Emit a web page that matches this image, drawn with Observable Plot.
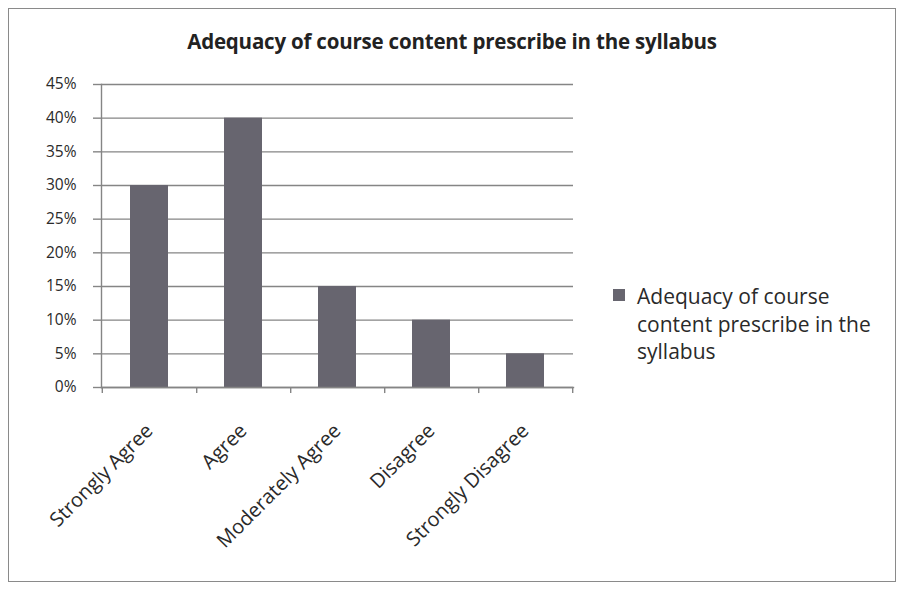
<!DOCTYPE html>
<html>
<head>
<meta charset="utf-8">
<script src="https://cdn.jsdelivr.net/npm/d3@7"></script>
<script src="https://cdn.jsdelivr.net/npm/@observablehq/plot@0.6"></script>
<style>
  html, body { margin: 0; padding: 0; background: #fff; }
  #wrap { position: relative; width: 904px; height: 596px; overflow: hidden; font-family: "Open Sans", Lato, sans-serif; }
  #frame { position: absolute; left: 8px; top: 8px; width: 888px; height: 574px; border: 1.5px solid #8a8a8a; box-sizing: border-box; pointer-events: none; }
  #title { position: absolute; left: 0; width: 904px; top: 28px; text-align: center; font-size: 20.5px; font-weight: bold; color: #222; line-height: 26px; letter-spacing: -0.2px; }
  #legend { position: absolute; left: 613px; top: 283px; font-size: 21px; color: #2a2a2a; line-height: 27.5px; }
  #legend .sw { position: absolute; left: 0; top: 6px; width: 12px; height: 12px; background: #67656f; }
  #legend .tx { margin-left: 24px; width: 270px; }
  #chart { position: absolute; left: 0; top: 0; }
</style>
</head>
<body>
<div id="wrap">
  <div id="chart"></div>
  <div id="frame"></div>
  <div id="title"></div>
  <div id="legend"><div class="sw"></div><div class="tx"></div></div>
</div>
<script>
const titleText = "Adequacy of course content prescribe in the syllabus";
const seriesName = "Adequacy of course content prescribe in the syllabus";
const legendLines = ["Adequacy of course", "content prescribe in the", "syllabus"];
const categories = ["Strongly Agree", "Agree", "Moderately Agree", "Disagree", "Strongly Disagree"];
const values = [0.30, 0.40, 0.15, 0.10, 0.05];
const yTicks = [0, 0.05, 0.10, 0.15, 0.20, 0.25, 0.30, 0.35, 0.40, 0.45];

const data = categories.map((c, i) => ({category: c, value: values[i]}));

document.getElementById("title").textContent = titleText;
document.querySelector("#legend .tx").innerHTML = legendLines.join("<br>");

const grey = "#858585";
const chart = Plot.plot({
  width: 904,
  height: 596,
  marginLeft: 101,
  marginRight: 331,
  marginTop: 84,
  marginBottom: 209,
  style: {fontFamily: "'Open Sans', Lato, sans-serif", color: "#2a2a2a", background: "transparent"},
  x: {domain: categories, paddingInner: 0.6, paddingOuter: 0.3, label: null},
  y: {domain: [0, 0.45], label: null},
  marks: [
    Plot.ruleY(yTicks, {stroke: grey, strokeWidth: 1.4, strokeOpacity: 1}),
    Plot.axisY({ticks: yTicks, tickFormat: d => Math.round(d * 100) + "%", tickSize: 8, tickPadding: 17, stroke: grey, strokeWidth: 1.4, label: null, fontSize: 15.5, fill: "#2a2a2a"}),
    Plot.barY(data, {x: "category", y: "value", fill: "#67656f"}),
    Plot.ruleX(categories, {x: d => d, dx: 47.2, y1: 0, y2: -0.009, stroke: grey, strokeWidth: 1.4}),
    Plot.ruleX(categories.slice(0, 1), {x: d => d, dx: -47.2, y1: 0, y2: -0.009, stroke: grey, strokeWidth: 1.4}),
    Plot.axisX({tickSize: 0, tickRotate: -45, tickPadding: 40, label: null, fontSize: 20, fill: "#2a2a2a", tickFormat: d => d}),
    Plot.frame({anchor: "left", stroke: grey, strokeWidth: 1.4}),
    Plot.frame({anchor: "bottom", stroke: grey, strokeWidth: 1.4})
  ]
});
document.getElementById("chart").appendChild(chart);
</script>
</body>
</html>
